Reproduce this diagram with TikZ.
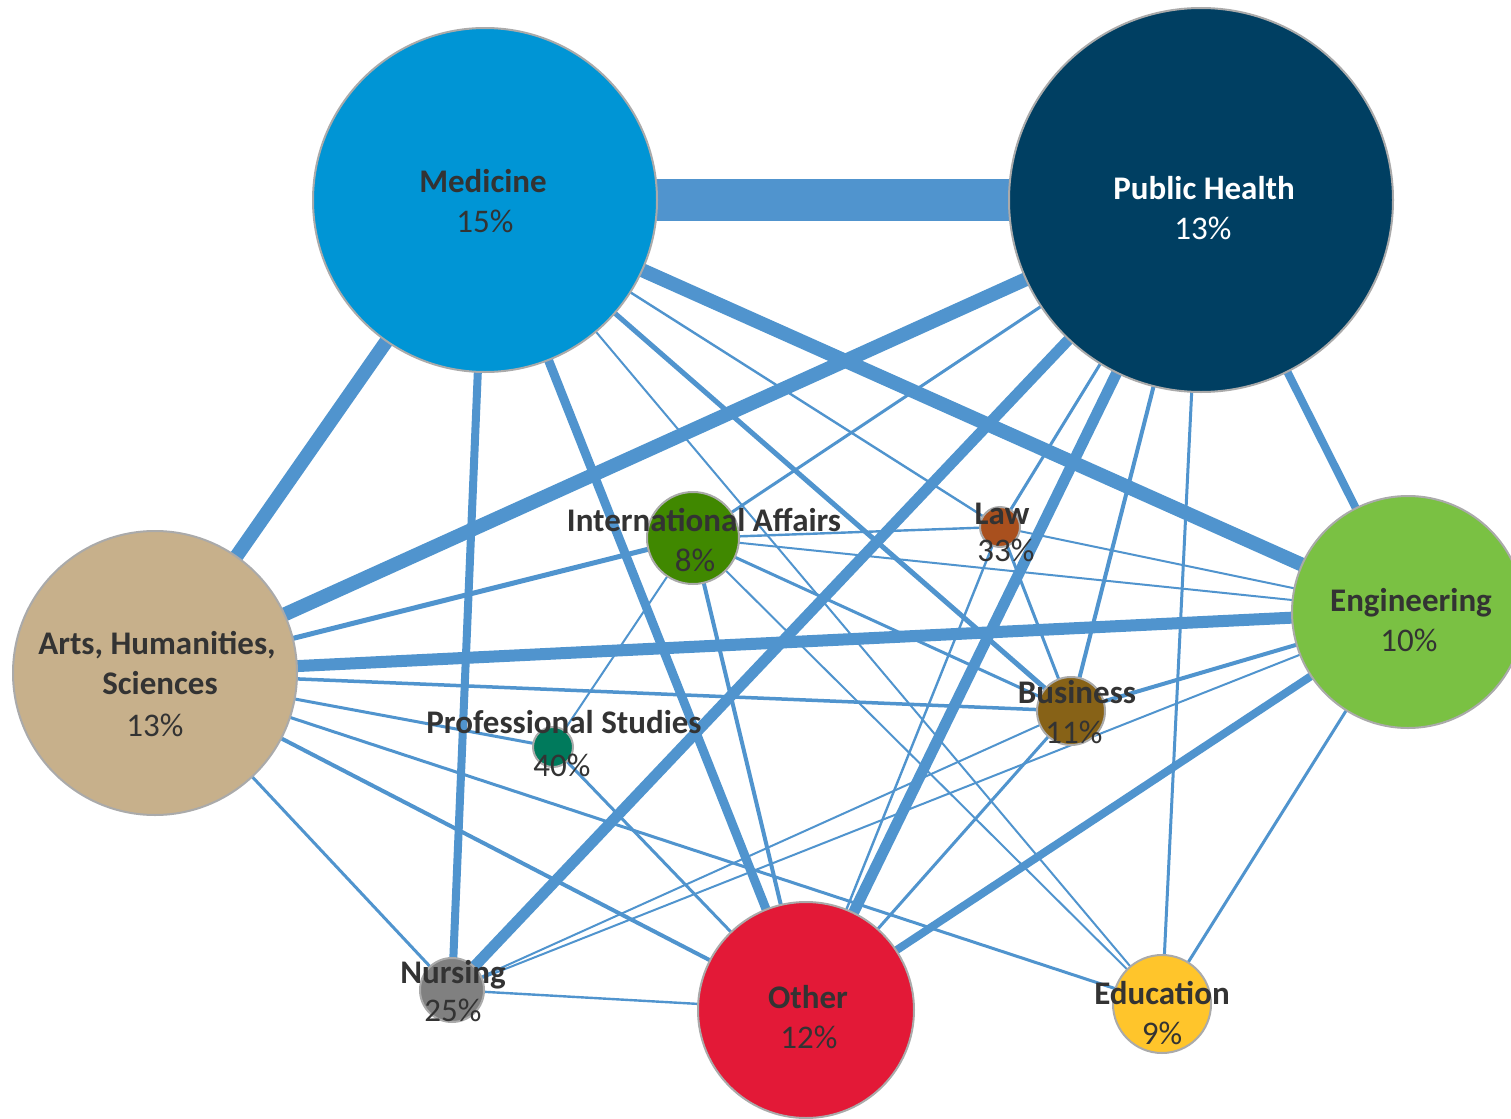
\documentclass[tikz,border=0pt]{standalone}
\usepackage{fontspec}
\setmainfont{Carlito}
\usetikzlibrary{backgrounds}
\definecolor{edgec}{RGB}{80,148,206}
\definecolor{bordc}{RGB}{170,170,170}
\definecolor{txt}{RGB}{51,51,51}
\definecolor{cMed}{RGB}{0,149,213}
\definecolor{cPH}{RGB}{0,63,98}
\definecolor{cArts}{RGB}{199,176,139}
\definecolor{cEng}{RGB}{122,193,67}
\definecolor{cOther}{RGB}{227,25,55}
\definecolor{cEdu}{RGB}{255,197,43}
\definecolor{cNurs}{RGB}{128,128,128}
\definecolor{cIA}{RGB}{64,136,0}
\definecolor{cLaw}{RGB}{169,80,30}
\definecolor{cBus}{RGB}{135,98,23}
\definecolor{cPS}{RGB}{0,122,92}
\begin{document}
\begin{tikzpicture}[x=0.5pt,y=-0.5pt,
  bub/.style={circle,draw=bordc,line width=1pt,inner sep=0pt,minimum size=#1},
  ed/.style={draw=edgec,line width=#1},
  nm/.style={anchor=base,font=\fontsize{16.5}{20}\selectfont\bfseries,text=txt,inner sep=0pt},
  pc/.style={anchor=base,font=\fontsize{16.5}{20}\selectfont,text=txt,inner sep=0pt}]
\useasboundingbox (0,0) rectangle (1511,1119);
% bubbles
\node[bub=172pt,fill=cMed] (M) at (485,200) {};
\node[bub=192pt,fill=cPH] (PH) at (1201,200) {};
\node[bub=142pt,fill=cArts] (A) at (155,673) {};
\node[bub=116pt,fill=cEng] (E) at (1408,612) {};
\node[bub=108pt,fill=cOther] (O) at (806,1010) {};
\node[bub=49pt,fill=cEdu] (Ed) at (1162,1004) {};
\node[bub=32pt,fill=cNurs] (N) at (452,990) {};
\node[bub=46pt,fill=cIA] (IA) at (693,538) {};
\node[bub=20pt,fill=cLaw] (L) at (1000,527) {};
\node[bub=34pt,fill=cBus] (B) at (1071,711) {};
\node[bub=20pt,fill=cPS] (PS) at (553,747) {};
% edges
\begin{scope}[on background layer]
\fill[white] (0,0) rectangle (1511,1119);
\draw[ed=21pt] (M.center) -- (PH.center);
\draw[ed=7pt] (M.center) -- (A.center);
\draw[ed=4pt] (M.center) -- (N.center);
\draw[ed=4.5pt] (M.center) -- (O.center);
\draw[ed=7pt] (M.center) -- (E.center);
\draw[ed=2.5pt] (M.center) -- (B.center);
\draw[ed=1.2pt] (M.center) -- (L.center);
\draw[ed=1pt] (M.center) -- (Ed.center);
\draw[ed=7pt] (PH.center) -- (A.center);
\draw[ed=1.5pt] (PH.center) -- (IA.center);
\draw[ed=5.5pt] (PH.center) -- (N.center);
\draw[ed=5.5pt] (PH.center) -- (O.center);
\draw[ed=1.5pt] (PH.center) -- (L.center);
\draw[ed=2pt] (PH.center) -- (B.center);
\draw[ed=1.5pt] (PH.center) -- (Ed.center);
\draw[ed=4pt] (PH.center) -- (E.center);
\draw[ed=2.5pt] (A.center) -- (IA.center);
\draw[ed=6pt] (A.center) -- (E.center);
\draw[ed=1.75pt] (A.center) -- (B.center);
\draw[ed=1.5pt] (A.center) -- (PS.center);
\draw[ed=1.5pt] (A.center) -- (Ed.center);
\draw[ed=2pt] (A.center) -- (O.center);
\draw[ed=1.5pt] (A.center) -- (N.center);
\draw[ed=1.2pt] (N.center) -- (O.center);
\draw[ed=1pt] (N.center) -- (B.center);
\draw[ed=1pt] (N.center) -- (E.center);
\draw[ed=1pt] (E.center) -- (IA.center);
\draw[ed=1pt] (E.center) -- (L.center);
\draw[ed=2pt] (E.center) -- (B.center);
\draw[ed=4pt] (E.center) -- (O.center);
\draw[ed=1.5pt] (E.center) -- (Ed.center);
\draw[ed=1.2pt] (IA.center) -- (L.center);
\draw[ed=1.5pt] (IA.center) -- (B.center);
\draw[ed=1pt] (IA.center) -- (Ed.center);
\draw[ed=2pt] (IA.center) -- (O.center);
\draw[ed=1pt] (IA.center) -- (PS.center);
\draw[ed=1.5pt] (L.center) -- (B.center);
\draw[ed=1.2pt] (L.center) -- (O.center);
\draw[ed=1.5pt] (B.center) -- (O.center);
\draw[ed=1.5pt] (PS.center) -- (O.center);
\end{scope}
% labels
\node[nm] (tM) at (483,192) {Medicine};
\node[pc] (pM) at (485,232) {15\%};
\node[nm,text=white] (tPH) at (1204,199) {Public Health};
\node[pc,text=white] (pPH) at (1203,239) {13\%};
\node[nm] (tA1) at (157,654) {Arts, Humanities,};
\node[nm] (tA2) at (160,694) {Sciences};
\node[pc] (pA) at (155,736) {13\%};
\node[nm] (tE) at (1411,611) {Engineering};
\node[pc] (pE) at (1409,651) {10\%};
\node[nm] (tIA) at (704,531) {International Affairs};
\node[pc] (pIA) at (695,571) {8\%};
\node[nm] (tL) at (1002,524) {Law};
\node[pc] (pL) at (1006,561) {33\%};
\node[nm] (tB) at (1077,703) {Business};
\node[pc] (pB) at (1074,743) {11\%};
\node[nm] (tPS) at (564,733) {Professional Studies};
\node[pc] (pPS) at (562,776) {40\%};
\node[nm] (tN) at (453,983) {Nursing};
\node[pc] (pN) at (453,1021) {25\%};
\node[nm] (tO) at (808,1008) {Other};
\node[pc] (pO) at (809,1048) {12\%};
\node[nm] (tEd) at (1162,1004) {Education};
\node[pc] (pEd) at (1162,1044) {9\%};
\end{tikzpicture}
\end{document}
